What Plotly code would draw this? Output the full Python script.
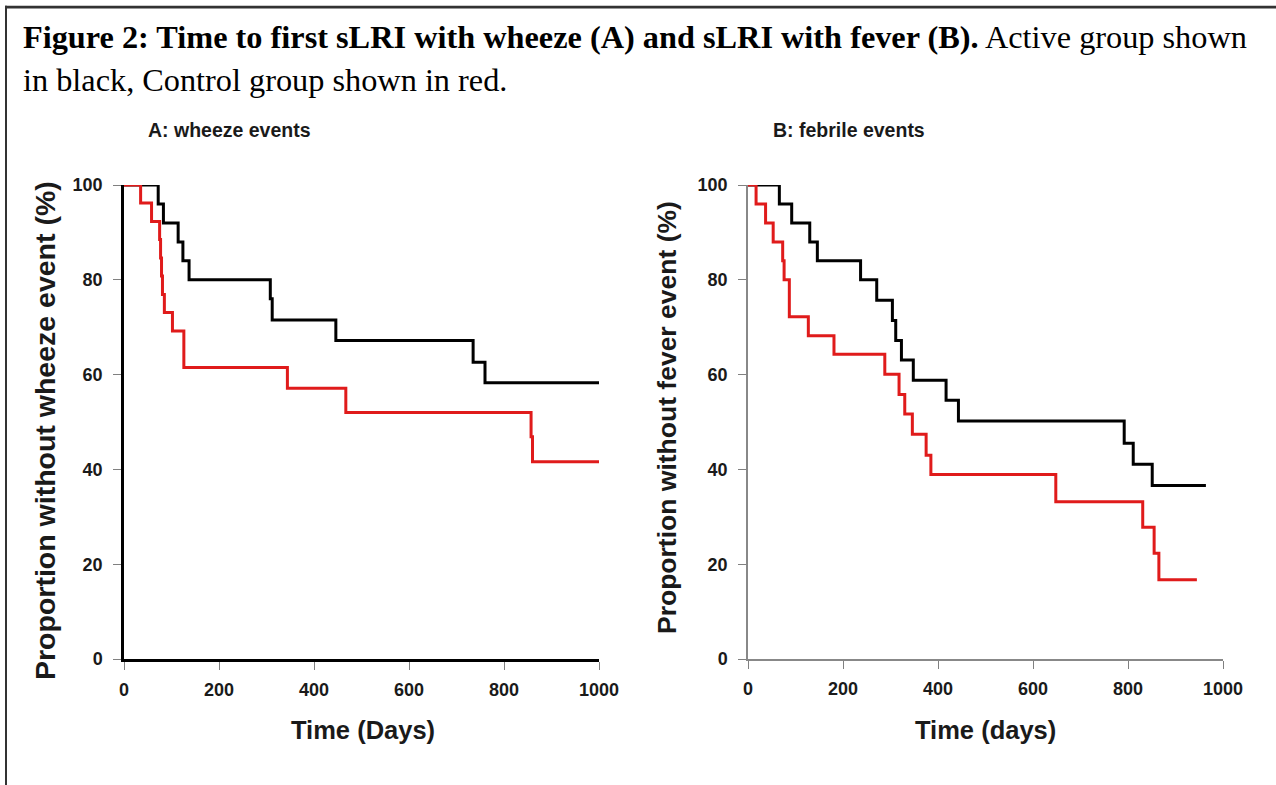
import plotly.graph_objects as go

W, H = 1276, 785

# Panel A: wheeze events
a_active_days = [0, 72, 83, 114, 124, 137, 308, 312, 446, 735, 760, 1000]
a_active_vals = [100, 96, 92, 88, 84, 80, 76, 71.5, 67.2, 62.6, 58.3, 58.3]
a_control_days = [0, 35, 58, 75, 77, 79, 81, 85, 102, 126, 344, 467, 857, 860, 1000]
a_control_vals = [100, 96.2, 92.3, 88.5, 84.6, 80.8, 76.9, 73.1, 69.2, 61.5, 57.1, 52.0, 46.9, 41.6, 41.6]

# Panel B: febrile events
b_active_days = [0, 66, 92, 130, 146, 237, 271, 304, 311, 323, 348, 417, 443, 792, 811, 851, 964]
b_active_vals = [100, 96, 92, 88, 84, 80, 75.7, 71.4, 67.2, 63.1, 58.8, 54.6, 50.2, 45.5, 41.1, 36.6, 36.6]
b_control_days = [0, 17, 37, 53, 73, 76, 87, 127, 181, 288, 318, 330, 346, 375, 385, 648, 831, 855, 865, 945]
b_control_vals = [100, 96, 92, 88, 84, 80, 72.2, 68.2, 64.3, 60.1, 55.8, 51.7, 47.4, 43, 38.9, 33.2, 27.8, 22.3, 16.7, 16.7]

x_ticks = [0, 200, 400, 600, 800, 1000]
y_ticks = [0, 20, 40, 60, 80, 100]

BLACK = "#000000"
RED = "#e01b1b"


def px(x):
    return x / W


def py(y):
    return 1 - y / H


fig = go.Figure()

fig.add_trace(go.Scatter(x=a_active_days, y=a_active_vals, mode="lines", line=dict(color=BLACK, width=3, shape="hv"),
                         xaxis="x", yaxis="y", name="Active", showlegend=False))
fig.add_trace(go.Scatter(x=a_control_days, y=a_control_vals, mode="lines", line=dict(color=RED, width=3, shape="hv"),
                         xaxis="x", yaxis="y", name="Control", showlegend=False))
fig.add_trace(go.Scatter(x=b_active_days, y=b_active_vals, mode="lines", line=dict(color=BLACK, width=3, shape="hv"),
                         xaxis="x2", yaxis="y2", name="Active", showlegend=False))
fig.add_trace(go.Scatter(x=b_control_days, y=b_control_vals, mode="lines", line=dict(color=RED, width=3, shape="hv"),
                         xaxis="x2", yaxis="y2", name="Control", showlegend=False))

tickfont = dict(family="Liberation Sans, Arial", size=18, color="#1a1a1a", weight="bold")

common_x = dict(range=[0, 1000], tickvals=x_ticks, ticks="outside", ticklen=8, tickwidth=1, tickcolor="#808080",
                showgrid=False, zeroline=False, showline=True, tickfont=tickfont, ticklabelstandoff=5,
                automargin=False)
common_y = dict(range=[0, 100], tickvals=y_ticks, ticks="outside", ticklen=8, tickwidth=1, tickcolor="#808080",
                showgrid=False, zeroline=False, showline=True, tickfont=tickfont, ticklabelstandoff=7,
                automargin=False)

yd = [py(659), py(185)]
fig.update_layout(
    width=W, height=H, margin=dict(l=0, r=0, t=0, b=0, pad=0, autoexpand=False),
    paper_bgcolor="white", plot_bgcolor="white",
    xaxis=dict(domain=[px(124), px(599)], anchor="y", linecolor="#000000", linewidth=2.5, **common_x),
    yaxis=dict(domain=yd, anchor="x", linecolor="#000000", linewidth=2.5, **common_y),
    xaxis2=dict(domain=[px(748), px(1223)], anchor="y2", linecolor="#888888", linewidth=1.5, **common_x),
    yaxis2=dict(domain=yd, anchor="x2", linecolor="#888888", linewidth=1.5, **common_y),
)

ann = []
serif = "Liberation Serif, Times New Roman"
ann.append(dict(x=px(21), y=py(37), xref="paper", yref="paper", xanchor="left", yanchor="middle", showarrow=False,
                text="<b>Figure 2: Time to first sLRI with wheeze (A) and sLRI with fever (B).</b> Active group shown",
                font=dict(family=serif, size=32.3, color="#000")))
ann.append(dict(x=px(21), y=py(80), xref="paper", yref="paper", xanchor="left", yanchor="middle", showarrow=False,
                text="in black, Control group shown in red.",
                font=dict(family=serif, size=32.3, color="#000")))

sans_b = dict(family="Liberation Sans, Arial", color="#1a1a1a", weight="bold")
ann.append(dict(x=px(146), y=py(130), xref="paper", yref="paper", xanchor="left", yanchor="middle", showarrow=False,
                text="A: wheeze events", font=dict(size=19.5, **sans_b)))
ann.append(dict(x=px(771), y=py(130), xref="paper", yref="paper", xanchor="left", yanchor="middle", showarrow=False,
                text="B: febrile events", font=dict(size=19.5, **sans_b)))
ann.append(dict(x=px(363), y=py(730), xref="paper", yref="paper", xanchor="center", yanchor="middle", showarrow=False,
                text="Time (Days)", font=dict(size=25.5, **sans_b)))
ann.append(dict(x=px(985), y=py(730), xref="paper", yref="paper", xanchor="center", yanchor="middle", showarrow=False,
                text="Time (days)", font=dict(size=25.5, **sans_b)))
ann.append(dict(x=px(45), y=py(431), xref="paper", yref="paper", xanchor="center", yanchor="middle", showarrow=False,
                textangle=-90, text="Proportion without wheeze event (%)", font=dict(size=28.5, **sans_b)))
ann.append(dict(x=px(667), y=py(418), xref="paper", yref="paper", xanchor="center", yanchor="middle", showarrow=False,
                textangle=-90, text="Proportion without fever event (%)", font=dict(size=26.5, **sans_b)))
fig.update_layout(annotations=ann)

# figure frame: top and left edges visible, right/bottom run off the page (drawn as thin filled bands)
fig.add_shape(type="rect", xref="paper", yref="paper", x0=px(5), x1=1, y0=py(8.5), y1=py(5.8),
              line=dict(width=0), fillcolor="#333333", layer="above")
fig.add_shape(type="rect", xref="paper", yref="paper", x0=px(5), x1=px(7), y0=0, y1=py(5.8),
              line=dict(width=0), fillcolor="#333333", layer="above")

fig.write_html("out.html", config={"displayModeBar": False})
